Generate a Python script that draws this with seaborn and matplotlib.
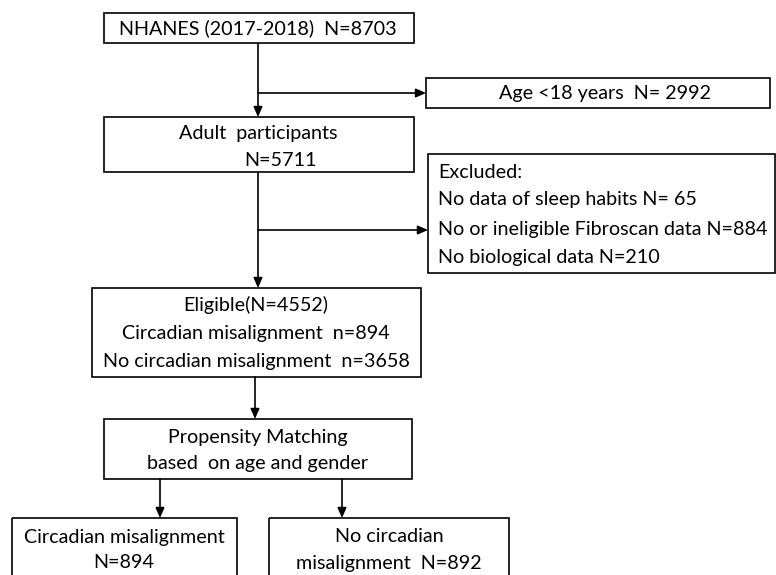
import matplotlib
matplotlib.use("Agg")
import matplotlib.pyplot as plt
from matplotlib.patches import Rectangle
import seaborn as sns

# --- counts ---
total_n = 8703
under18_n = 2992
adult_n = 5711
excl_reasons = ["No data of sleep habits N= ", "No or ineligible Fibroscan data N=", "No biological data N="]
excl_n = [65, 884, 210]
eligible_n = 4552
eligible_groups = ["Circadian misalignment  n=", "No circadian misalignment  n="]
eligible_group_n = [894, 3658]
matched_n = [894, 892]

# --- layout in pixels (x0, y0, x1, y1), y measured from the top ---
W, H = 776, 575
BOXES = {
    "total":    (104, 13, 414, 43),
    "under18":  (426, 78, 770, 108),
    "adult":    (104, 117, 414, 172),
    "excluded": (428, 154, 775, 273),
    "eligible": (92, 288, 421, 377),
    "psm":      (104, 419, 412, 479),
    "cm":       (12, 518, 237, 580),
    "nocm":     (269, 518, 509, 580),
}
FS = 14.2
LW = 1.2
CX = 258  # main spine of the flowchart

sns.set_theme(style="white")
plt.rcParams['font.family'] = ['Lato', 'DejaVu Sans']

fig = plt.figure(figsize=(W / 100, H / 100), dpi=100)
ax = fig.add_axes([0, 0, 1, 1])
ax.set_xlim(0, W)
ax.set_ylim(H, 0)
ax.axis('off')


def box(key):
    x0, y0, x1, y1 = BOXES[key]
    ax.add_patch(Rectangle((x0, y0), x1 - x0, y1 - y0, fill=False,
                           edgecolor='black', linewidth=LW, clip_on=False))


def arrow(x0, y0, x1, y1):
    ax.annotate('', xy=(x1, y1), xytext=(x0, y0),
                arrowprops=dict(arrowstyle='-|>,head_length=0.5,head_width=0.22',
                                color='black', lw=LW, shrinkA=0, shrinkB=0))


def line(xs, ys):
    ax.plot(xs, ys, color='black', lw=LW, solid_capstyle='butt')


for k in BOXES:
    box(k)

txt = dict(fontsize=FS, color='black', va='center')

ax.text(CX, 28, f"NHANES (2017-2018)  N={total_n}", ha='center', **txt)
ax.text(605, 93, f"Age <18 years  N= {under18_n}", ha='center', **txt)
ax.text(CX, 134, "Adult  participants", ha='center', **txt)
ax.text(281, 160, f"N={adult_n}", ha='center', **txt)

ax.text(438, 172, "Excluded:", ha='left', **txt)
for i, (lab, n) in enumerate(zip(excl_reasons, excl_n)):
    ax.text(438, 200 + i * 29, f"{lab}{n}", ha='left', **txt)

ax.text(256, 305, f"Eligible(N={eligible_n})", ha='center', **txt)
for i, (lab, n) in enumerate(zip(eligible_groups, eligible_group_n)):
    ax.text(256, 333 + i * 28, f"{lab}{n}", ha='center', **txt)

ax.text(CX, 437, "Propensity Matching", ha='center', **txt)
ax.text(CX, 464, "based  on age and gender", ha='center', **txt)

ax.text(124, 537, "Circadian misalignment", ha='center', **txt)
ax.text(124, 563, f"N={matched_n[0]}", ha='center', **txt)
ax.text(389, 537, "No circadian", ha='center', **txt)
ax.text(389, 563, f"misalignment  N={matched_n[1]}", ha='center', **txt)

# connectors
line([CX, CX], [43, 93])
arrow(CX, 93, CX, 117)
arrow(CX, 93, 426, 93)
line([CX, CX], [172, 230])
arrow(CX, 230, 428, 230)
arrow(CX, 230, CX, 288)
arrow(255, 377, 255, 419)
arrow(160, 479, 160, 518)
arrow(342, 479, 342, 518)

fig.savefig("out.png", dpi=100, facecolor='white')
